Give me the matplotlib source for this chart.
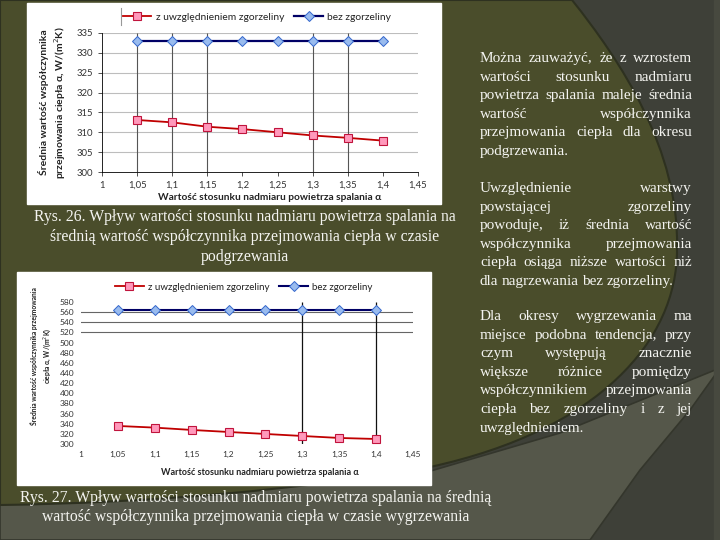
import matplotlib
matplotlib.use("Agg")
from matplotlib import pyplot as plt
from matplotlib.path import Path
from matplotlib.patches import PathPatch, Rectangle, Polygon

# dane - wartosci
alpha = [1.05, 1.1, 1.15, 1.2, 1.25, 1.3, 1.35, 1.4]
alpha_ticks = [1.0, 1.05, 1.1, 1.15, 1.2, 1.25, 1.3, 1.35, 1.4, 1.45]
alpha_labels = ['1', '1,05', '1,1', '1,15', '1,2', '1,25', '1,3', '1,35', '1,4', '1,45']

# Rys. 26 - podgrzewanie
podgrz_zgorz = [313.1, 312.5, 311.4, 310.8, 310.0, 309.2, 308.6, 307.9]
podgrz_bez = [333.0, 333.0, 333.0, 333.0, 333.0, 333.0, 333.0, 333.0]
podgrz_yticks = [300, 305, 310, 315, 320, 325, 330, 335]
podgrz_vlines = [1.05, 1.1, 1.15, 1.3, 1.35]

# Rys. 27 - wygrzewanie
wygrz_zgorz = [335.6, 332.3, 327.7, 323.7, 319.8, 315.8, 311.9, 309.9]
wygrz_bez = [565.0, 565.0, 565.0, 565.0, 565.0, 565.0, 565.0, 565.0]
wygrz_yticks = [300, 320, 340, 360, 380, 400, 420, 440, 460, 480, 500, 520, 540, 560, 580]
wygrz_grid = [520, 540, 560]
wygrz_vlines = [1.3, 1.4]

leg_zgorz = 'z uwzględnieniem zgorzeliny'
leg_bez = 'bez zgorzeliny'
xlab = 'Wartość stosunku nadmiaru powietrza spalania α'
ylab1 = 'Średnia wartość współczynnika\nprzejmowania ciepła α, W/(m$^2$K)'
ylab2 = 'Średnia wartość współczynnika przejmowania\nciepła α, W/(m$^2$K)'

akapit1 = ["Można zauważyć, że z wzrostem",
           "wartości stosunku nadmiaru",
           "powietrza spalania maleje średnia",
           "wartość współczynnika",
           "przejmowania ciepła dla okresu",
           "podgrzewania."]
akapit2 = ["Uwzględnienie warstwy",
           "powstającej zgorzeliny",
           "powoduje, iż średnia wartość",
           "współczynnika przejmowania",
           "ciepła osiąga niższe wartości niż",
           "dla nagrzewania bez zgorzeliny."]
akapit3 = ["Dla okresy wygrzewania ma",
           "miejsce podobna tendencja, przy",
           "czym występują znacznie",
           "większe różnice pomiędzy",
           "współczynnikiem przejmowania",
           "ciepła bez zgorzeliny i z jej",
           "uwzględnieniem."]
podpis26 = ["Rys. 26. Wpływ wartości stosunku nadmiaru powietrza spalania na",
            "średnią wartość współczynnika przejmowania ciepła w czasie",
            "podgrzewania"]
podpis27 = ["Rys. 27. Wpływ wartości stosunku nadmiaru powietrza spalania na średnią",
            "wartość współczynnika przejmowania ciepła w czasie wygrzewania"]

OLIWKA = '#4a4d2b'
CIEMNY = '#3e4038'
SZARY = '#55574a'
TXT = '#f4f4f0'
SERIF = 'Liberation Serif'
SANS = 'Lato'

fig = plt.figure(figsize=(7.2, 5.4), dpi=100)
bg = fig.add_axes([0, 0, 1, 1])
bg.set_xlim(0, 720)
bg.set_ylim(540, 0)
bg.axis('off')

# tlo slajdu
bg.add_patch(Rectangle((0, 0), 720, 540, color=CIEMNY, zorder=0))
bg.add_patch(Polygon([(720, 368), (560, 433), (400, 480), (0, 500), (0, 540), (590, 540),
                      (640, 470), (690, 410)], closed=True, facecolor=SZARY,
                     edgecolor='#34362c', lw=1.2, zorder=1))
verts = [(0, 0), (572, 0),
         (620, 60), (680, 150), (677, 250),
         (677, 340), (600, 430), (430, 467),
         (300, 490), (150, 503), (0, 505),
         (0, 0)]
codes = [Path.MOVETO, Path.LINETO,
         Path.CURVE4, Path.CURVE4, Path.CURVE4,
         Path.CURVE4, Path.CURVE4, Path.CURVE4,
         Path.CURVE4, Path.CURVE4, Path.CURVE4,
         Path.CLOSEPOLY]
bg.add_patch(PathPatch(Path(verts, codes), facecolor=OLIWKA, edgecolor='#2e3120', lw=1.5, zorder=2))
bg.add_patch(Rectangle((714, 0), 6, 540, color='#47493f', zorder=1))

# biale tla wykresow
bg.add_patch(Rectangle((27, 3), 414, 201, color='white', zorder=3))
bg.add_patch(Rectangle((17, 272), 414, 213, color='white', zorder=3))
bg.plot([121, 121], [8, 25], color='#999999', lw=0.8, zorder=4)

r = fig.canvas.get_renderer()


def justuj(linie, x0, x1, y0, dy):
    for i, linia in enumerate(linie):
        y = y0 + i * dy
        slowa = linia.split()
        ts = [bg.text(0, y, s, va='baseline', ha='left', color=TXT, family=SERIF,
                      fontsize=11, zorder=5) for s in slowa]
        ws = [t.get_window_extent(r).width for t in ts]
        if i == len(linie) - 1 or len(slowa) == 1:
            gap = 3.5
        else:
            gap = (x1 - x0 - sum(ws)) / (len(slowa) - 1)
        x = x0
        for t, w in zip(ts, ws):
            t.set_x(x)
            x += w + gap


justuj(akapit1, 480, 692, 62, 18.6)
justuj(akapit2, 480, 692, 192, 18.6)
justuj(akapit3, 480, 692, 320, 18.6)

for i, l in enumerate(podpis26):
    bg.text(245, 221 + i * 20, l, ha='center', va='baseline', color=TXT, family=SERIF,
            fontsize=11.3)
for i, l in enumerate(podpis27):
    bg.text(256, 502 + i * 19, l, ha='center', va='baseline', color=TXT, family=SERIF,
            fontsize=11.3)


def styl(ax, rozm):
    ax.patch.set_alpha(0)
    ax.set_xlim(1, 1.45)
    ax.set_xticks(alpha_ticks)
    ax.set_xticklabels(alpha_labels)
    for s in ['top', 'right']:
        ax.spines[s].set_visible(False)
    ax.tick_params(labelsize=rozm, colors='#333333', length=3, width=0.6)
    for lab in ax.get_xticklabels() + ax.get_yticklabels():
        lab.set_family(SANS)


# Rys. 26
ax1 = fig.add_axes([102 / 720, 1 - 172 / 540, 316 / 720, 139 / 540], zorder=5)
ax1.set_ylim(300, 335)
ax1.set_yticks(podgrz_yticks)
ax1.set_yticklabels([str(v) for v in podgrz_yticks])
styl(ax1, 6.8)
for v in podgrz_yticks[1:]:
    ax1.axhline(v, color='#bdbdbd', lw=0.8, zorder=1)
ax1.vlines(podgrz_vlines, 300, 335, color='#555555', lw=0.8, zorder=2)
ax1.plot(alpha, podgrz_zgorz, color='#c00000', lw=1.3, marker='s', ms=6,
         mfc='#ff99bb', mec='#c0143c', mew=0.8, zorder=4, label=leg_zgorz)
ax1.plot(alpha, podgrz_bez, color='#000066', lw=1.6, marker='D', ms=5.5,
         mfc='#99bbee', mec='#3366cc', mew=0.7, zorder=4, label=leg_bez)
ax1.spines['left'].set_linewidth(0.6)
ax1.spines['bottom'].set_linewidth(0.6)
ax1.set_xlabel(xlab, family=SANS, fontsize=7.3, fontweight='bold', color='#222222')
ax1.xaxis.set_label_coords(0.53, -0.15)
ax1.set_ylabel(ylab1, family=SANS, fontsize=7.5, fontweight='bold', color='#222222',
               linespacing=1.3)
ax1.yaxis.set_label_coords(-0.108, 0.5)
ax1.legend(loc='center', bbox_to_anchor=(0.49, 1.115), ncol=2, frameon=False,
           prop={'family': SANS, 'size': 7.4}, handlelength=2.8, columnspacing=1.0,
           handletextpad=0.4, labelcolor='#222222')

# Rys. 27
ax2 = fig.add_axes([81 / 720, 1 - 444 / 540, 332 / 720, 142 / 540], zorder=5)
ax2.set_ylim(300, 580)
ax2.set_yticks(wygrz_yticks)
ax2.set_yticklabels([str(v) for v in wygrz_yticks])
styl(ax2, 6)
ax2.spines['left'].set_visible(False)
ax2.spines['bottom'].set_visible(False)
ax2.tick_params(length=0, pad=5)
for v in wygrz_grid:
    ax2.axhline(v, color='#666666', lw=0.8, zorder=1)
ax2.vlines(wygrz_vlines, 300, 580, color='#111111', lw=0.9, zorder=2)
ax2.plot(alpha, wygrz_zgorz, color='#c00000', lw=1.3, marker='s', ms=5.5,
         mfc='#ff99bb', mec='#c0143c', mew=0.8, zorder=4, label=leg_zgorz)
ax2.plot(alpha, wygrz_bez, color='#000066', lw=1.5, marker='D', ms=5,
         mfc='#99bbee', mec='#3366cc', mew=0.7, zorder=4, label=leg_bez)
ax2.set_xlabel(xlab, family=SANS, fontsize=6.5, fontweight='bold', color='#222222')
ax2.xaxis.set_label_coords(0.54, -0.17)
ax2.set_ylabel(ylab2, family=SANS, fontsize=4.9, fontweight='bold', color='#222222',
               linespacing=1.4)
ax2.yaxis.set_label_coords(-0.084, 0.62)
ax2.legend(loc='center', bbox_to_anchor=(0.49, 1.105), ncol=2, frameon=False,
           prop={'family': SANS, 'size': 7.0}, handlelength=3.0, columnspacing=1.0,
           handletextpad=0.4, labelcolor='#222222')

fig.savefig('out.png', dpi=100)
